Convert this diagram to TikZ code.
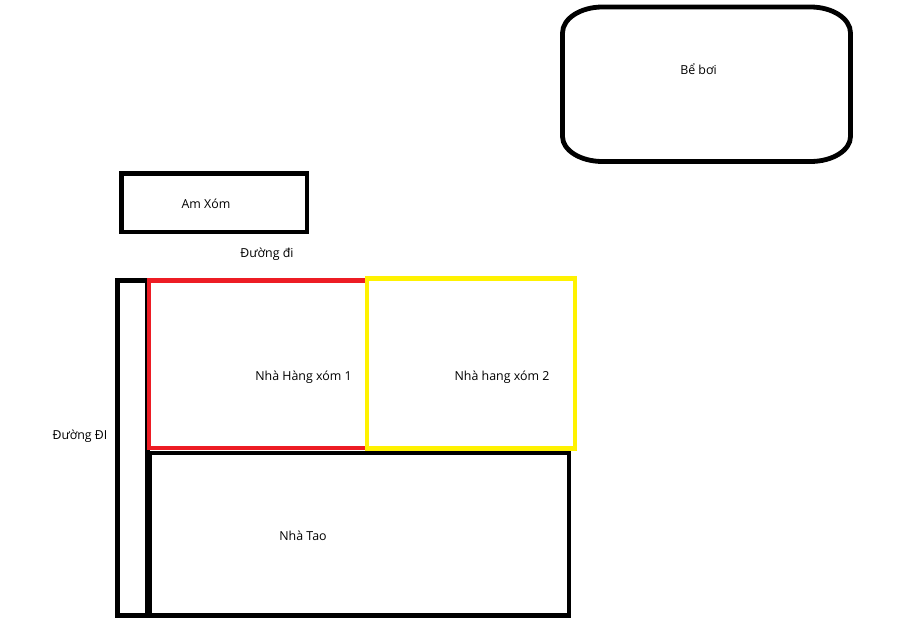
\documentclass[tikz,border=0pt]{standalone}
\usepackage{fontspec}
\setmainfont{Open Sans}
\definecolor{pred}{HTML}{ED1C24}
\definecolor{pyellow}{HTML}{FFF200}
\begin{document}
\begin{tikzpicture}[x=0.75pt,y=-0.75pt,
  wall/.style={draw=black,line width=3.6pt,line join=miter},
  redwall/.style={draw=pred,line width=3.5pt},
  yelwall/.style={draw=pyellow,line width=3.5pt},
  lbl/.style={font=\fontsize{9.3}{11}\selectfont,inner sep=0pt,anchor=mid}]
\useasboundingbox[fill=white] (0,0) rectangle (899,638);
% pool
\draw[wall] (602.5,7) -- (810.5,7)
  .. controls (832.6,7) and (850.5,18.6) .. (850.5,33) -- (850.5,136.5)
  .. controls (850.5,150.3) and (832.6,161.5) .. (810.5,161.5) -- (602.5,161.5)
  .. controls (580.4,161.5) and (562.5,150.3) .. (562.5,136.5) -- (562.5,33)
  .. controls (562.5,18.6) and (580.4,7) .. (602.5,7) -- cycle;
\node[lbl] (pool) at (698.5,71) {Bể bơi};
% Am Xom
\draw[wall] (121.5,173.5) rectangle (307,232);
\node[lbl] (amxom) at (206,205) {Am Xóm};
\node[lbl] (road1) at (267,254) {Đường đi};
% road
\draw[wall] (117.5,280.5) rectangle (147.5,615.5);
\node[lbl] (road2) at (80,436) {Đường ĐI};
% my house
\draw[wall] (150,453) rectangle (569,615.5);
\node[lbl] (tao) at (303,537) {Nhà Tao};
% neighbour 1
\draw[redwall] (149,280.5) rectangle (367,448);
\node[lbl] (n1) at (303.5,377) {Nhà Hàng xóm 1};
% neighbour 2
\draw[yelwall] (367,278.5) rectangle (575,448.5);
\node[lbl] (n2) at (502,377) {Nhà hang xóm 2};
\end{tikzpicture}
\end{document}
